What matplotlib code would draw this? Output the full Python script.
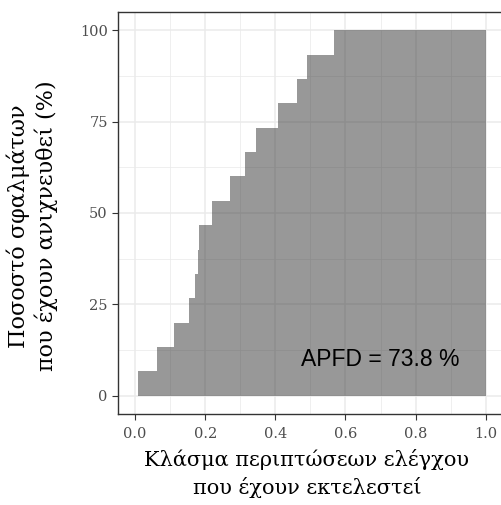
import matplotlib
matplotlib.use("Agg")
import matplotlib.pyplot as plt
from matplotlib.ticker import MultipleLocator

# Fraction of test cases executed at which each new fault is detected
executed_fraction = [0.0, 0.0094, 0.062, 0.112, 0.155, 0.172, 0.179, 0.1825,
                     0.2196, 0.271, 0.314, 0.344, 0.409, 0.462, 0.491, 0.568, 1.0]
# Cumulative percentage of faults detected
faults_detected = [0.0, 6.667, 13.333, 20.0, 26.667, 33.333, 40.0, 46.667,
                   53.333, 60.0, 66.667, 73.333, 80.0, 86.667, 93.333, 100.0, 100.0]
apfd_value = 73.8

x_ticks = [0.0, 0.2, 0.4, 0.6, 0.8, 1.0]
x_tick_labels = ["0.0", "0.2", "0.4", "0.6", "0.8", "1.0"]
y_ticks = [0, 25, 50, 75, 100]
y_tick_labels = ["0", "25", "50", "75", "100"]

serif = ["DejaVu Serif"]

fig = plt.figure(figsize=(5.01, 5.05), dpi=100)
ax = fig.add_axes([117.5 / 501, 1 - 414 / 505, 385.8 / 501, 402 / 505])

# Step-shaped area under the detection curve (first point at x=0 only widens the scale)
ax.fill_between(executed_fraction[1:], 0, faults_detected[1:], step="post",
                facecolor="#333333", alpha=0.5, linewidth=0, zorder=2)

ax.set_xlim(-0.05, 1.05)
ax.set_ylim(-5, 105)
ax.set_xticks(x_ticks)
ax.set_xticklabels(x_tick_labels)
ax.set_yticks(y_ticks)
ax.set_yticklabels(y_tick_labels)
ax.xaxis.set_minor_locator(MultipleLocator(0.1))
ax.yaxis.set_minor_locator(MultipleLocator(12.5))

ax.grid(which="major", color="#EBEBEB", linewidth=1.1, zorder=0)
ax.grid(which="minor", color="#EBEBEB", linewidth=0.55, zorder=0)
ax.set_axisbelow(True)
ax.tick_params(which="minor", length=0)
ax.tick_params(which="major", length=4, width=0.8, color="#333333",
               labelcolor="#4D4D4D", labelsize=10.5)
ax.tick_params(axis="x", pad=5)
ax.tick_params(axis="y", pad=3)
for lab in ax.get_xticklabels() + ax.get_yticklabels():
    lab.set_family(serif)
for sp in ax.spines.values():
    sp.set_color("#333333")
    sp.set_linewidth(1.0)

ax.set_xlabel("Κλάσμα περιπτώσεων ελέγχου\nπου έχουν εκτελεστεί",
              family=serif, fontsize=15, color="black", linespacing=1.4)
ax.set_ylabel("Ποσοστό σφαλμάτων\nπου έχουν ανιχνευθεί (%)",
              family=serif, fontsize=16, color="black", linespacing=1.22)
ax.xaxis.set_label_coords((307 - 117.5) / 385.8, (414 - 449) / 402)
ax.yaxis.set_label_coords((58 - 117.5) / 385.8, (414 - 226) / 402)

ax.text(0.7, 10, f"APFD = {apfd_value} %", family=["Liberation Sans", "DejaVu Sans"],
        fontsize=16.5, ha="center", va="center", color="black", zorder=3)

fig.savefig("out.png", dpi=100)
